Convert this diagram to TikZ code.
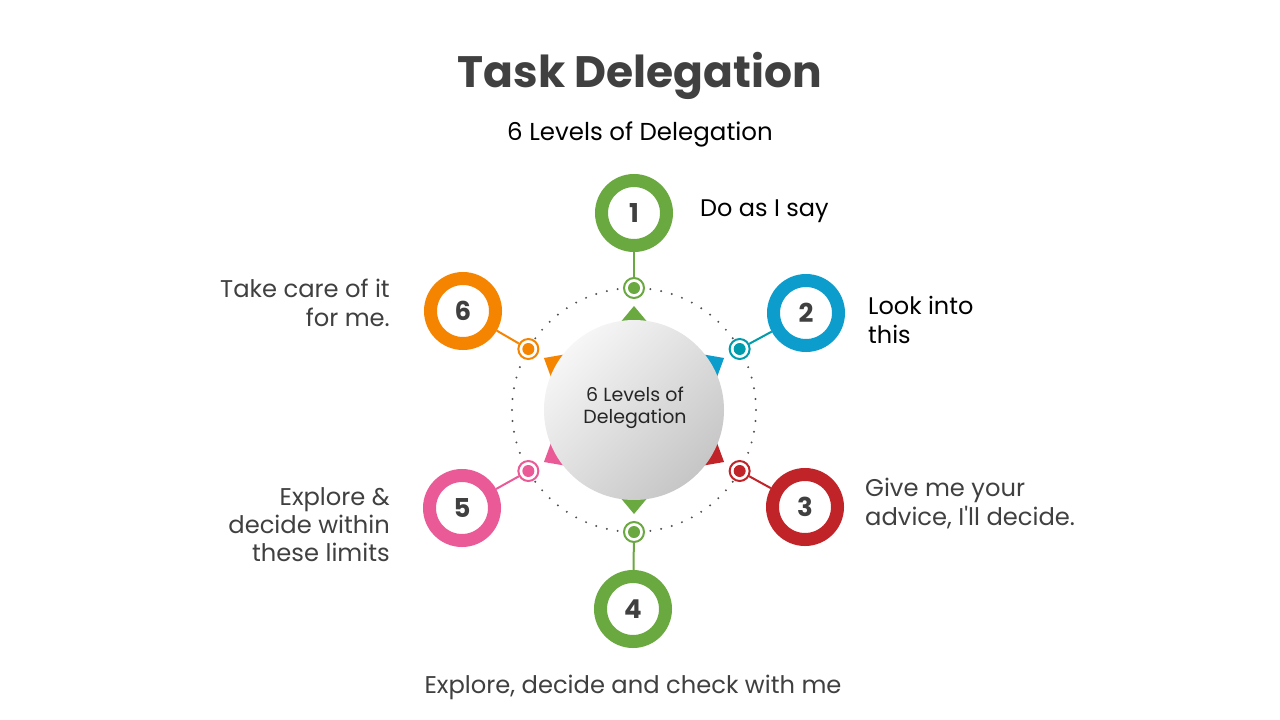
\documentclass[tikz,border=0pt]{standalone}
\usepackage{fontspec}
\setmainfont{Poppins}
\newfontfamily\plainpop{Poppins}
\usetikzlibrary{calc}
\definecolor{cgreen}{RGB}{106,168,64}
\definecolor{cblue}{RGB}{12,157,204}
\definecolor{cteal}{RGB}{0,155,172}
\definecolor{cred}{RGB}{192,35,40}
\definecolor{cpink}{RGB}{234,90,150}
\definecolor{corange}{RGB}{245,133,0}
\definecolor{ttlgray}{RGB}{64,64,64}
\definecolor{txtgray}{RGB}{64,64,64}
\definecolor{dotgray}{RGB}{80,80,80}
\definecolor{ballhi}{RGB}{246,246,246}
\definecolor{balllo}{RGB}{198,198,198}
\tikzset{
  bigring/.style={circle, draw=#1, line width=13pt, fill=white, minimum size=65pt, inner sep=0pt,
    font=\bfseries\fontsize{26}{26}\selectfont, text=ttlgray},
  smallring/.style={circle, draw=#1, line width=2pt, fill=white, minimum size=20pt, inner sep=0pt},
  conn/.style={draw=#1, line width=2pt},
  lbl/.style={font=\fontsize{24.2}{29}\selectfont, text=txtgray, inner sep=0pt},
  lblk/.style={font=\fontsize{24}{29}\selectfont, text=black, inner sep=0pt},
}
\begin{document}
\begin{tikzpicture}[x=1pt,y=-1pt]
\useasboundingbox[fill=white] (0,0) rectangle (1280,720);
\coordinate (C) at (634,410);

% title
\node[font=\bfseries\fontsize{44}{44}\selectfont, text=ttlgray, anchor=base, inner sep=0pt] (title) at (640,87) {Task Delegation};
\node[font=\fontsize{24.5}{24.5}\selectfont, text=black, anchor=base, inner sep=0pt] (subtitle) at (640,140) {6 Levels of Delegation};

% dotted circle
\foreach \i in {0,...,69}
  \fill[dotgray] ($(C)+(5.142857*\i:122)$) circle (1.1);

% triangles
\foreach \a/\c in {270/cgreen,330/cblue,30/cred,90/cgreen,150/cpink,210/corange}
  \fill[\c] ($(C)+(\a:104)$) -- ($(C)+(\a:80)+(\a+90:20)$) -- ($(C)+(\a:80)+(\a-90:20)$) -- cycle;

% centre ball
\shade[top color=ballhi, bottom color=balllo, shading angle=45] (C) circle (90);
\node[font=\fontsize{19}{22}\selectfont, text=black!85, align=center] (centre) at (635,408) {6 Levels of\\Delegation};

% small rings
\node[smallring=cgreen] (S1) at ($(C)+(270:122)$) {};
\node[smallring=cteal] (S2) at ($(C)+(330:122)$) {};
\node[smallring=cred] (S3) at ($(C)+(30:122)$) {};
\node[smallring=cgreen] (S4) at ($(C)+(90:122)$) {};
\node[smallring=cpink] (S5) at ($(C)+(150:122)$) {};
\node[smallring=corange] (S6) at ($(C)+(210:122)$) {};
\fill[cgreen] (S1) circle (6);
\fill[cteal] (S2) circle (6);
\fill[cred] (S3) circle (6);
\fill[cgreen] (S4) circle (6);
\fill[cpink] (S5) circle (6);
\fill[corange] (S6) circle (6);

% big rings
\node[bigring=cgreen] (R1) at (634,213) {1};
\node[bigring=cblue] (R2) at (806,313) {2};
\node[bigring=cred] (R3) at (805,507) {3};
\node[bigring=cgreen] (R4) at (633,609) {4};
\node[bigring=cpink] (R5) at (462,508) {5};
\node[bigring=corange] (R6) at (463,311) {6};

% connectors
\draw[conn=cgreen] (S1) -- (R1);
\draw[conn=cteal] (S2) -- (R2);
\draw[conn=cred] (S3) -- (R3);
\draw[conn=cgreen] (S4) -- (R4);
\draw[conn=cpink] (S5) -- (R5);
\draw[conn=corange] (S6) -- (R6);

% labels
\node[lblk, anchor=base west] (L1) at (700,216) {Do as I say};
\node[lblk, anchor=base west] (L2a) at (868,314) {Look into};
\node[lblk, anchor=base west] (L2b) at (868,343) {this};
\node[lbl, anchor=base west] (L3a) at (865,496) {Give me your};
\node[lbl, anchor=base west] (L3b) at (865,525) {advice, I{\plainpop '}ll decide.};
\node[lbl, anchor=base] (L4) at (633,693) {Explore, decide and check with me};
\node[lbl, anchor=base east] (L5a) at (390,505) {Explore \&};
\node[lbl, anchor=base east] (L5b) at (390,533) {decide within};
\node[lbl, anchor=base east] (L5c) at (390,561) {these limits};
\node[lbl, anchor=base east] (L6a) at (390,297) {Take care of it};
\node[lbl, anchor=base east] (L6b) at (390,326) {for me.};
\end{tikzpicture}
\end{document}
